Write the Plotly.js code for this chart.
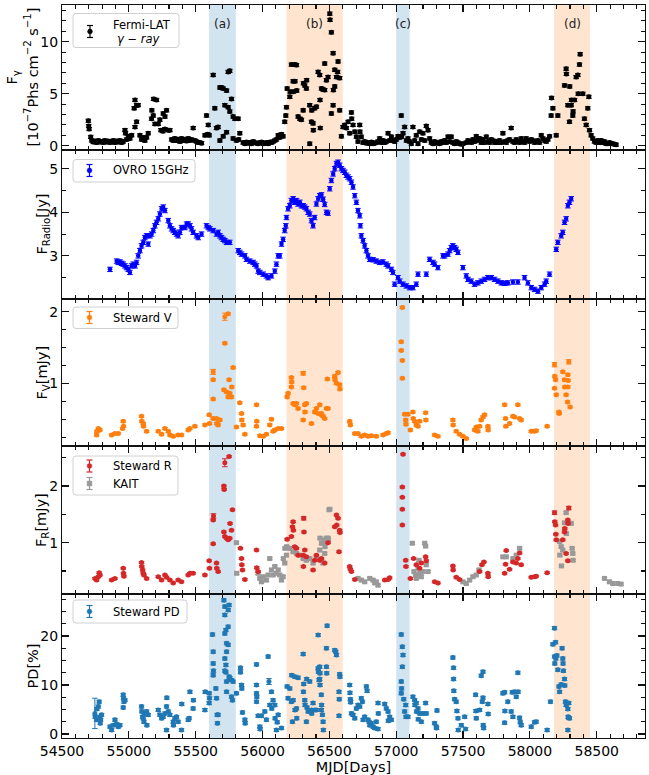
<!DOCTYPE html>
<html><head><meta charset="utf-8">
<script src="https://cdn.plot.ly/plotly-3.0.1.min.js"></script>
<style>html,body{margin:0;padding:0;background:#fff}</style>
</head><body><div id="chart" style="width:649px;height:775px"></div>
<script>
// ---------------- DATA (MJD, value) ----------------
const fermi = [
[54697,2.4],[54700,1.9],[54703,1.6],[54715,0.85],[54722,0.5],[54734,0.35],[54746,0.45],[54759,0.3],[54771,0.5],[54784,0.35],[54796,0.4],[54809,0.3],[54821,0.5],[54834,0.35],[54846,0.45],[54859,0.3],[54871,0.4],[54884,0.5],[54896,0.3],[54909,0.45],[54921,0.35],[54933,0.5],[54946,0.3],[54958,0.4],[54971,1.5],[54975,1.2],[54983,0.6],[54996,0.9],[55008,0.7],[55021,1.0],
[55040,3.6],[55046,4.4],[55058,3.9],[55070,3.9],[55058,2.3],[55046,1.8],[55083,1.0],[55095,0.6],[55108,0.8],[55120,0.5],[55133,0.8],[55145,1.2],[55170,2.6],[55183,2.9],[55172,3.4],[55185,4.5],[55207,4.4],[55195,2.1],[55220,2.1],[55232,2.5],[55257,3.1],[55270,2.8],[55282,3.4],[55240,1.5],[55255,1.4],[55270,1.6],[55295,1.5],[55307,1.5],
[55320,0.6],[55332,0.5],[55344,0.7],[55357,0.5],[55369,0.6],[55382,0.4],[55394,0.7],[55407,0.5],[55419,0.6],[55432,0.45],[55444,0.7],[55457,0.5],[55469,0.6],[55481,1.7],[55494,0.5],[55506,0.4],[55519,0.3],[55531,0.3],[55544,0.25],
[55569,1.0],[55581,2.9],[55594,2.0],[55590,1.1],[55601,1.0],[55631,6.8],[55643,3.6],[55656,1.7],[55668,1.8],[55681,0.5],[55681,5.6],[55693,5.6],[55706,5.5],[55731,5.3],[55718,3.9],[55743,3.7],[55743,7.1],[55755,7.2],[55768,4.5],[55755,3.3],[55780,2.8],[55793,2.6],[55706,0.9],[55731,1.3],[55780,0.7],[55818,2.6],[55830,1.2],[55805,0.5],[55822,0.6],
[55855,0.3],[55868,0.2],[55880,0.35],[55892,0.25],[55905,0.3],[55917,0.2],[55930,0.4],[55942,0.3],[55955,0.25],[55967,0.2],[55980,0.3],[55992,0.35],[56005,0.2],[56017,0.25],[56029,0.3],[56042,0.2],[56054,0.35],[56067,0.3],[56079,0.4],[56092,0.5],[56104,0.6],[56117,1.0],[56129,0.8],[56142,1.1],[56154,0.9],
[56166,2.3],[56174,2.9],[56179,3.7],[56184,5.5],[56204,4.7],[56216,7.8],[56241,7.8],[56254,7.75],[56206,5.2],[56229,6.2],[56243,6.2],[56256,5.3],[56231,5.2],[56266,2.8],[56279,2.6],[56291,2.5],[56304,3.4],[56306,6.0],[56316,5.8],[56328,5.5],[56330,6.3],[56353,3.9],[56366,2.3],[56378,2.15],[56353,0.2],[56380,1.5],[56368,3.4],[56390,3.6],[56403,3.75],[56416,7.1],[56428,6.8],[56441,5.5],[56430,4.4],[56465,5.35],[56478,6.3],[56490,6.6],[56465,7.9],[56453,5.4],
[56503,12.7],[56505,12.1],[56515,10.9],[56528,8.9],[56565,8.1],[56540,7.3],[56553,6.6],[56562,7.1],[56577,6.5],[56540,5.7],[56530,5.35],[56528,3.9],[56515,3.1],[56577,3.4],[56432,1.7],
[56590,0.9],[56602,1.8],[56615,2.0],[56627,1.7],[56640,2.3],[56665,3.2],[56667,2.6],[56652,1.2],[56677,2.0],[56690,1.35],[56702,0.87],[56727,2.0],[56729,1.35],[56739,0.87],[56714,0.4],[56752,0.3],[56764,0.4],[56777,0.25],[56789,0.3],[56802,0.2],[56814,0.35],[56827,0.2],[56839,0.25],[56851,0.3],[56864,0.4],[56876,0.7],[56889,0.3],[56901,0.5],[56914,0.3],[56926,0.4],[56939,1.2],[56951,0.5],[56964,0.87],[56976,0.5],[56988,0.4],
[57001,0.6],[57013,0.9],[57026,0.8],[57038,2.9],[57040,0.87],[57051,1.2],[57063,1.8],[57076,0.5],[57088,0.7],[57100,0.4],[57113,0.2],[57125,1.8],[57138,0.5],[57150,1.0],[57163,0.2],[57175,1.35],[57188,0.6],[57200,1.2],[57213,0.5],[57225,1.9],[57238,1.5],[57250,0.7],
[57262,0.3],[57275,0.2],[57287,0.4],[57300,0.25],[57312,0.3],[57325,0.2],[57337,0.4],[57350,0.3],[57362,0.5],[57375,0.3],[57387,0.87],[57400,0.4],[57412,0.87],[57424,0.3],[57437,0.2],[57449,0.4],[57462,0.3],[57474,0.2],[57487,0.15],[57499,0.2],
[57524,0.3],[57537,0.5],[57549,0.4],[57561,0.3],[57574,0.6],[57586,0.4],[57599,0.9],[57611,0.5],[57624,0.7],[57636,0.3],[57649,0.6],[57661,0.3],[57674,0.87],[57686,0.4],[57698,0.3],[57711,0.6],[57723,0.5],[57736,0.3],[57748,0.4],[57761,0.3],[57773,0.5],[57786,0.3],[57798,1.2],[57811,0.4],[57823,0.3],[57835,0.5],[57848,0.6],[57860,1.7],[57873,0.4],[57885,0.3],[57898,0.6],[57910,0.4],[57923,0.3],[57935,0.7],[57948,0.4],[57960,0.3],[57972,0.7],[57985,0.5],[57997,0.4],[58010,0.6],[58022,0.5],[58035,0.3],[58047,0.4],[58060,0.5],[58072,0.3],[58085,1.0],[58097,0.7],[58110,0.5],[58122,0.4],[58135,0.6],[58147,0.9],
[58159,2.9],[58162,4.6],[58172,3.6],[58197,1.0],[58209,2.9],[58259,5.8],[58271,7.4],[58273,6.9],[58284,3.9],[58296,2.3],[58298,5.7],[58309,3.9],[58311,4.4],[58321,2.9],[58334,4.4],[58323,3.3],[58346,6.6],[58359,6.8],[58371,7.8],[58376,8.8],[58361,5.0],[58396,5.0],[58408,2.6],[58421,2.0],[58433,3.6],[58441,4.7],[58446,1.5],
[58458,1.0],[58470,0.7],[58483,0.4],[58496,0.3],[58508,0.5],[58520,0.3],[58533,0.5],[58545,0.3],[58558,0.4],[58570,0.2],[58583,0.2],[58595,0.3],[58608,0.2],[58620,0.2],[58633,0.15],[58645,0.1]
];

const ovro = [
[54859,2.69],[54909,2.88],[54921,2.85],[54933,2.86],[54946,2.83],[54958,2.81],[54971,2.77],[54983,2.73],[54996,2.69],[55008,2.62],[55021,2.77],[55033,2.81],[55046,2.77],[55058,2.85],[55070,3.0],[55083,3.12],[55095,3.23],[55108,3.31],[55120,3.42],[55133,3.46],[55145,3.27],[55158,3.46],[55170,3.5],[55183,3.58],[55195,3.69],[55207,3.77],[55220,3.85],[55232,3.96],[55245,4.08],[55257,4.12],[55270,4.04],
[55295,3.81],[55307,3.69],[55320,3.62],[55332,3.58],[55344,3.54],[55357,3.5],[55369,3.46],[55382,3.54],[55394,3.65],[55419,3.65],[55432,3.73],[55444,3.73],[55457,3.69],[55469,3.62],[55481,3.54],[55506,3.46],[55519,3.42],[55544,3.5],[55581,3.69],[55594,3.65],[55606,3.62],[55631,3.58],[55656,3.5],[55668,3.54],[55681,3.46],[55693,3.42],[55706,3.38],[55718,3.35],[55731,3.31],[55755,3.31],
[55818,3.12],[55830,3.08],[55843,3.04],[55868,3.0],[55880,2.92],[55905,2.88],[55930,2.85],[55942,2.81],[55955,2.77],[55967,2.65],[55980,2.62],[56005,2.58],[56029,2.54],[56042,2.5],[56067,2.54],[56092,2.65],[56104,2.81],[56117,3.0],[56129,3.0],[56142,3.27],[56154,3.38],[56166,3.58],[56174,3.69],[56179,3.88],[56191,4.08],[56204,4.15],[56216,4.27],[56229,4.31],[56241,4.23],[56254,4.27],[56266,4.19],[56279,4.23],[56291,4.15],[56304,4.15],[56316,4.12],[56328,4.08],[56341,4.0],[56353,3.96],[56366,3.81],[56378,3.69],[56390,3.88],[56403,4.19],[56416,4.31],[56428,4.38],[56441,4.4],[56453,4.3],[56465,4.18],[56478,4.0],[56490,3.98],
[56503,4.54],[56515,4.73],[56528,4.88],[56540,5.0],[56553,5.12],[56565,5.15],[56577,5.08],[56590,5.0],[56602,4.96],[56615,4.92],[56627,4.85],[56640,4.81],[56652,4.77],[56665,4.69],[56677,4.58],[56690,4.38],[56702,4.23],[56714,4.04],[56727,3.92],[56732,3.69],[56739,3.46],[56752,3.35],[56764,3.23],[56777,3.12],[56789,3.0],[56802,2.92],[56827,2.91],[56851,2.88],[56876,2.85],[56901,2.86],[56926,2.81],[56939,2.77],[56964,2.69],[56976,2.62],[56988,2.35],[57013,2.5],[57026,2.42],[57051,2.35],[57076,2.31],[57101,2.27],[57125,2.27],[57150,2.35],[57163,2.58],[57225,2.58],[57250,2.92],[57275,2.85],[57287,2.81],[57312,2.73],
[57350,3.0],[57362,3.0],[57387,3.04],[57400,3.12],[57412,3.19],[57424,3.23],[57437,3.19],[57449,3.15],[57462,3.08],[57499,2.73],[57524,2.54],[57537,2.46],[57561,2.42],[57586,2.35],[57611,2.38],[57636,2.42],[57661,2.46],[57686,2.5],[57711,2.5],[57736,2.46],[57761,2.42],[57786,2.38],[57811,2.37],[57835,2.38],[57873,2.4],[57910,2.4],[57960,2.5],[57985,2.38],[58010,2.27],[58035,2.23],[58060,2.19],[58085,2.27],[58110,2.35],[58122,2.42],[58147,2.58],
[58197,3.15],[58209,3.31],[58234,3.46],[58246,3.54],[58259,3.77],[58271,3.85],[58284,4.15],[58296,4.23],[58309,4.31]
];

const stewardV = [
[54759,0.28],[54761,0.33],[54772,0.37],[54784,0.35],[54871,0.28],[54896,0.30],[54921,0.30],[54958,0.47],[54960,0.40],[54953,0.37],
[55095,0.54],[55097,0.47],[55108,0.44],[55110,0.40],[55133,0.33],[55220,0.33],[55245,0.29],[55270,0.37],[55295,0.33],[55307,0.28],[55332,0.26],[55369,0.28],[55394,0.28],[55444,0.35],[55457,0.37],[55494,0.40],
[55569,0.42],[55601,0.56],[55603,0.44],[55631,0.51],[55631,0.78],[55631,1.05],[55631,1.16],[55656,0.51],[55658,0.44],[55668,0.42],[55681,0.49],
[55718,1.56],[55718,1.93],[55743,1.97],[55750,1.05],[55711,0.91],[55731,0.88],[55755,0.86],[55768,0.81],[55770,0.95],[55780,1.22],[55743,0.81],
[55805,0.39],[55830,0.73],[55843,0.58],[55845,0.49],[55855,0.42],[55868,0.29],[55955,0.70],[55957,0.47],[55955,0.40],[55980,0.27],[56005,0.26],[56029,0.29],[56054,0.42],[56067,0.50],[56079,0.33],[56092,0.35],[56117,0.37],[56142,0.37],
[56184,0.81],[56191,0.86],[56216,0.95],[56218,1.02],[56216,1.08],[56229,0.72],[56241,0.70],[56254,0.72],[56266,0.65],[56304,1.14],[56308,0.94],[56316,0.70],[56318,0.60],[56328,0.72],[56304,0.49],[56366,0.44],[56390,0.60],[56403,0.65],[56416,0.58],[56428,0.70],[56441,0.56],[56453,0.54],[56465,0.51],[56485,1.06],[56490,0.65],
[56440,0.58],[56478,0.65],[56540,1.10],[56542,1.05],[56553,1.0],[56565,1.15],[56577,0.98],[56579,0.92],
[56652,0.47],[56657,0.42],[56690,0.30],[56714,0.30],[56739,0.26],[56764,0.28],[56789,0.26],[56814,0.27],[56851,0.26],[56901,0.28],[56926,0.30],[56939,0.31],
[57046,2.06],[57038,1.58],[57038,1.46],[57046,1.32],[57046,1.07],[57063,0.57],[57071,0.49],[57073,0.43],[57088,0.57],[57106,0.35],[57125,0.60],[57127,0.51],[57138,0.47],[57150,0.42],[57163,0.40],[57175,0.47],[57220,0.59],[57222,0.49],
[57287,0.28],[57312,0.26],[57424,0.49],[57426,0.42],[57449,0.33],[57474,0.29],[57499,0.26],[57524,0.23],
[57586,0.35],[57599,0.39],[57611,0.33],[57624,0.40],[57636,0.49],[57649,0.53],[57661,0.56],[57686,0.40],[57688,0.35],
[57811,0.70],[57818,0.51],[57820,0.40],[57848,0.44],[57873,0.54],[57885,0.53],[57910,0.70],[57923,0.51],[57935,0.49],[58010,0.33],[58035,0.33],[58047,0.34],[58129,0.40],
[58184,1.26],[58186,1.10],[58192,1.05],[58184,0.93],[58197,0.84],[58217,0.60],[58219,0.58],[58246,1.16],[58259,1.05],[58261,0.95],[58271,0.84],[58284,0.95],[58286,1.04],[58284,1.12],[58282,0.74],[58291,1.30],[58301,0.67]
];

const stewardR = [
[54747,0.37],[54759,0.34],[54772,0.40],[54778,0.47],[54784,0.43],[54871,0.34],[54896,0.37],[54958,0.55],[54960,0.46],[54963,0.41],
[55095,0.65],[55097,0.58],[55103,0.52],[55108,0.46],[55113,0.43],[55133,0.37],[55220,0.40],[55245,0.34],[55270,0.43],[55282,0.39],[55307,0.34],[55332,0.29],[55369,0.34],[55394,0.31],[55444,0.43],[55457,0.46],[55481,0.46],
[55569,0.43],[55601,0.68],[55603,0.55],[55631,0.98],[55631,1.40],[55633,1.47],[55656,0.64],[55658,0.55],[55668,0.49],
[55711,2.0],[55713,1.94],[55718,2.41],[55750,2.52],[55711,1.19],[55718,1.11],[55731,1.08],[55743,1.05],[55755,1.08],[55768,1.22],[55775,1.58],[55757,1.34],
[55835,0.90],[55843,0.72],[55845,0.61],[55850,0.52],[55868,0.35],[55955,0.87],[55957,0.56],[55967,0.49],
[56184,1.06],[56216,1.11],[56229,1.37],[56224,1.28],[56231,1.22],[56241,0.93],[56254,0.90],[56266,0.78],[56304,0.78],[56308,1.43],[56310,1.19],[56316,0.87],[56328,0.75],[56306,0.58],[56378,0.52],[56390,0.69],[56403,0.78],[56428,0.69],[56441,0.72],[56465,0.64],[56490,1.0],
[56553,1.49],[56565,1.43],[56555,1.31],[56540,1.28],[56577,1.22],[56579,1.18],[56572,0.84],
[56652,0.58],[56657,0.53],[56665,0.49],[56690,0.35],[56914,0.34],[56939,0.35],[56951,0.38],
[57051,2.56],[57046,1.98],[57046,1.80],[57046,1.59],[57046,1.31],[57071,0.69],[57073,0.58],[57106,0.37],[57130,0.72],[57150,0.61],[57175,0.55],[57188,0.64],[57220,0.75],[57225,0.68],
[57287,0.31],[57312,0.29],[57424,0.59],[57426,0.52],[57449,0.39],[57474,0.35],[57624,0.49],[57641,0.61],[57656,0.66],[57686,0.46],[57688,0.40],
[57811,0.46],[57818,0.62],[57823,0.86],[57848,0.53],[57873,0.66],[57898,0.64],[57910,0.72],[57923,0.82],[57935,0.61],[58010,0.39],[58035,0.40],[58047,0.41],[58129,0.47],
[58184,1.53],[58186,1.37],[58192,1.31],[58194,1.15],[58197,1.05],[58246,1.05],[58259,1.19],[58261,1.25],[58284,1.40],[58286,1.34],[58291,1.61],[58271,0.81],[58284,0.68]
];

const kait = [
[55805,1.0],[55807,0.46],
[55967,0.46],[55980,0.37],[55992,0.31],[56005,0.40],[56029,0.34],[56042,0.43],[56054,0.72],[56067,0.52],[56079,0.43],[56092,0.58],[56104,0.46],[56117,0.52],[56129,0.43],[56142,0.34],[56154,0.40],[56166,0.64],[56156,0.72],[56168,0.90],[56179,0.78],
[56181,0.93],[56204,0.90],[56229,0.84],[56254,0.81],[56279,0.78],[56304,0.72],[56328,0.69],[56353,0.72],[56378,0.64],[56403,0.75],[56428,0.87],[56441,0.99],[56465,1.05],[56490,1.08],[56498,1.58],
[56503,1.59],[56430,1.08],[56453,0.99],[56467,0.93],[56478,1.08],[56492,1.05],[56465,0.81],[56440,0.69],[56453,0.64],
[56714,0.37],[56739,0.34],[56764,0.31],[56802,0.37],[56827,0.34],[56839,0.29],[56864,0.25],[56851,0.31],
[57121,0.99],[57133,0.49],[57145,0.43],[57163,0.55],[57170,0.69],[57175,0.46],[57188,0.40],[57200,0.49],[57213,0.99],[57220,0.94],[57225,0.61],[57238,0.49],[57150,0.37],
[57499,0.31],[57524,0.28],[57549,0.34],[57574,0.40],[57599,0.43],[57619,0.52],
[57798,0.75],[57823,0.75],[57873,0.72],[57898,0.78],[57923,0.90],
[58271,1.53],[58259,1.35],[58273,1.16],[58222,1.02],[58234,0.93],[58246,0.87],[58224,0.78],[58236,0.59],[58316,0.90],[58321,0.81],[58323,0.69],[58309,1.34],
[58558,0.37],[58595,0.31],[58620,0.28],[58657,0.28],[58682,0.27]
];

const stewardPD = [
[54746,4.2],[54748,3.5],[54759,2.9],[54761,5.1],[54772,5.6],[54778,6.6],[54784,3.5],[54789,2.9],[54796,3.9],[54786,2.2],
[54859,1.5],[54871,0.8],[54884,1.8],[54896,2.9],[54909,2.0],[54921,1.5],[54933,1.8],[54958,8.0],[54960,7.3],[54963,6.6],[54971,6.9],[54958,5.4],
[55095,5.6],[55097,4.6],[55103,3.5],[55108,3.2],[55113,2.5],[55120,4.2],[55133,4.6],[55135,1.8],[55145,3.9],
[55220,4.9],[55232,3.9],[55245,3.2],[55257,3.5],[55270,4.2],[55282,5.6],[55284,7.4],[55282,0.8],[55295,4.6],[55307,3.9],[55332,2.5],[55334,1.8],[55344,3.2],[55357,3.5],[55369,2.5],[55394,0.8],[55396,6.1],
[55444,2.9],[55451,3.2],[55457,8.6],[55481,5.2],[55483,6.9],
[55569,4.9],[55571,8.6],[55601,8.3],[55603,7.3],[55601,6.3],[55626,20.3],[55631,16.8],[55631,14.4],[55633,12.9],[55631,12.0],[55651,9.3],[55656,7.3],[55661,3.9],[55663,2.2],[55668,3.9],
[55711,27.3],[55718,26.0],[55718,24.3],[55726,21.2],[55718,20.5],[55731,18.5],[55731,16.8],[55718,15.4],[55726,14.1],[55718,12.9],[55726,12.6],[55731,10.7],[55731,8.6],[55743,25.3],[55750,26.3],[55743,21.9],[55743,18.2],[55750,11.7],[55755,11.4],[55768,11.0],[55768,7.6],[55775,6.9],[55780,10.7],[55805,8.3],
[55835,13.5],[55835,12.6],[55843,10.0],[55845,9.3],[55850,4.4],[55868,2.9],[55870,2.2],
[55955,14.2],[55955,10.0],[55955,8.3],[55957,7.6],[55955,6.6],[55967,3.7],[55980,1.5],[55982,1.0],[55992,3.7],[56017,4.6],[56029,2.9],[56042,15.8],[56048,10.7],[56054,5.9],[56067,8.6],[56069,5.2],[56079,6.9],[56092,5.9],[56094,3.2],[56104,0.8],[56110,2.4],[56117,3.9],[56142,1.2],
[56184,9.7],[56191,7.3],[56204,9.3],[56216,6.6],[56218,12.0],[56224,2.5],[56229,6.9],[56241,11.7],[56243,4.9],[56254,5.2],[56256,3.2],[56266,11.5],
[56304,16.3],[56306,8.6],[56308,10.2],[56316,6.9],[56318,5.9],[56328,2.5],[56330,11.2],[56333,5.4],[56341,4.6],[56353,10.7],[56366,4.9],[56368,4.2],[56378,6.3],[56390,4.9],[56403,4.9],[56416,20.2],[56416,13.4],[56418,12.7],[56423,11.0],
[56428,13.7],[56430,12.4],[56428,11.2],[56430,10.0],[56440,8.0],[56442,5.9],[56440,4.9],[56448,3.9],[56453,2.5],[56455,0.8],[56478,13.7],[56480,12.4],[56478,17.5],[56483,22.1],
[56540,17.1],[56548,16.8],[56553,16.1],[56577,12.2],[56579,11.7],[56572,8.6],[56574,7.1],[56572,3.7],
[56652,10.0],[56654,8.4],[56657,7.1],[56659,6.5],[56665,4.2],[56677,3.9],[56690,3.2],[56702,5.2],[56714,5.9],[56727,5.6],[56739,7.3],[56747,6.6],[56752,2.9],[56764,3.5],[56777,9.7],[56782,8.8],[56789,2.9],[56797,2.5],[56802,1.8],[56814,2.2],[56827,1.5],[56839,1.2],[56851,2.5],[56864,6.3],[56866,4.2],[56864,1.0],
[56914,6.1],[56926,5.2],[56939,4.6],[56941,2.7],[56951,3.5],[56964,2.9],
[57038,20.3],[57046,17.8],[57051,16.1],[57046,13.7],[57038,10.7],[57040,9.3],[57038,8.3],[57056,7.1],[57071,5.9],[57063,4.6],[57073,3.5],[57088,3.5],
[57125,7.6],[57138,6.9],[57140,5.9],[57150,6.3],[57163,5.2],[57152,4.6],[57165,3.0],[57175,4.2],[57188,2.5],[57200,4.2],[57220,6.3],[57225,4.2],
[57287,2.2],[57300,1.5],[57302,1.2],[57305,4.8],
[57424,15.6],[57429,13.5],[57429,11.2],[57431,8.8],[57437,7.1],[57449,6.6],[57454,4.7],[57462,3.2],[57464,0.8],[57487,1.8],[57512,3.5],[57519,1.0],
[57594,8.0],[57596,4.7],[57599,3.2],[57624,4.9],[57636,11.9],[57644,6.6],[57649,12.7],[57651,1.8],[57654,1.2],[57649,7.4],[57686,6.1],[57688,4.1],
[57798,8.3],[57811,8.5],[57813,4.7],[57811,2.3],[57835,6.6],[57860,4.6],[57868,8.5],[57873,3.5],[57885,8.6],[57898,7.6],[57910,12.5],[57912,8.6],[57923,3.3],[57928,2.4],[57935,1.8],
[58010,1.5],[58035,2.4],[58047,2.5],[58129,0.8],
[58154,6.6],[58184,21.6],[58172,18.3],[58192,18.7],[58184,15.8],[58186,14.4],[58194,15.4],[58202,16.0],[58209,13.1],[58217,9.7],[58222,8.6],[58234,10.1],[58241,17.5],[58246,15.4],[58248,14.4],[58251,12.9],[58259,11.2],[58261,9.9],[58266,6.6],[58276,6.3],[58284,5.1],[58286,3.5],[58291,3.3],[58296,3.2],[58284,0.8],[58271,5.9],[58291,6.3]
];

// typical 1-sigma uncertainties (plus the few visibly larger ones)
const ERR = {fermi:0.15, ovro:0.05, V:0.015, R:0.015, kait:0.02, PD:0.3};
const bigErrV  = {"55718,1.93":0.05, "55631,1.16":0.035, "56304,1.14":0.025, "58184,1.26":0.03, "58291,1.3":0.03};
const bigErrR  = {"55718,2.41":0.07, "55633,1.47":0.04, "56308,1.43":0.03, "58184,1.53":0.03, "58291,1.61":0.03};
const bigErrPD = {"54746,4.2":3.1, "56048,10.7":0.6};

const flares = [ // [start, end, colour, label]
  [55600, 55800, 'blue', '(a)'],
  [56180, 56600, 'orange', '(b)'],
  [57000, 57100, 'blue', '(c)'],
  [58180, 58450, 'orange', '(d)']
];

// ---------------- GEOMETRY ----------------
const L = 62, R = 645, T = 5, B = 738;
const X = p => (p - L) / (R - L);
const Y = p => (B - p) / (B - T);
const edges = [5, 150, 299, 446, 594, 738];
const dom = i => [Y(edges[i + 1]), Y(edges[i])];
const FONT = 'DejaVu Sans, Verdana, sans-serif';
const TICKC = '#111';

function err(pairs, base, big) {
  return pairs.map(p => (big && big[p[0] + ',' + p[1]] !== undefined) ? big[p[0] + ',' + p[1]] : base);
}
function trace(pairs, i, color, size, base, big, symbol) {
  return {
    type: 'scatter', mode: 'markers',
    x: pairs.map(p => p[0]), y: pairs.map(p => p[1]),
    xaxis: 'x' + (i + 1), yaxis: 'y' + (i + 1),
    marker: {color: color, size: size, symbol: symbol || 'circle', line: {width: 0}},
    error_y: {type: 'data', array: err(pairs, base, big), color: color, thickness: 1, width: 2.8},
    hoverinfo: 'skip', showlegend: false
  };
}
const cBlue = '#1f77b4', cOrange = '#ff7f0e', cRed = '#d62728', cGrey = '#999999';
const data = [
  trace(fermi, 0, '#000000', 5, ERR.fermi),
  trace(ovro, 1, '#0000ff', 4.5, ERR.ovro),
  trace(stewardV, 2, cOrange, 5, ERR.V, bigErrV),
  trace(kait, 3, cGrey, 5, ERR.kait, null, 'square'),
  trace(stewardR, 3, cRed, 5, ERR.R, bigErrR),
  trace(stewardPD, 4, cBlue, 5, ERR.PD, bigErrPD)
];

const yRanges = [[-0.41, 13.53], [2.01, 5.43], [0.1255, 2.177], [0.095, 2.705], [-0.82, 28.57]];
const yDticks = [5, 1, 1, 1, 10];
const yMinor = [1, 0.5, 0.25, 0.5, 2.5];

const layout = {
  width: 649, height: 775,
  margin: {l: L, r: 649 - R, t: T, b: 775 - B, pad: 0},
  paper_bgcolor: '#ffffff', plot_bgcolor: 'rgba(0,0,0,0)',
  font: {family: FONT, size: 14, color: '#000'},
  showlegend: false,
  shapes: [], annotations: []
};
for (let i = 0; i < 5; i++) {
  const last = i === 4;
  layout['xaxis' + (i + 1)] = {
    anchor: 'y' + (i + 1), domain: [0, 1], range: [54500, 58861],
    matches: last ? undefined : 'x5',
    tick0: 54500, dtick: 500, tickformat: 'd',
    ticks: 'inside', ticklen: 7, tickwidth: 1.1, tickcolor: TICKC,
    minor: {tick0: 54500, dtick: 100, ticks: 'inside', ticklen: 4, tickwidth: 1.1, tickcolor: TICKC},
    showline: true, linecolor: TICKC, linewidth: 1.1, mirror: 'ticks',
    showgrid: false, zeroline: false, showticklabels: last,
    tickfont: {family: FONT, size: 14, color: '#000'}, fixedrange: true
  };
  layout['yaxis' + (i + 1)] = {
    anchor: 'x' + (i + 1), domain: dom(i), range: yRanges[i],
    tick0: 0, dtick: yDticks[i],
    ticks: 'inside', ticklen: 7, tickwidth: 1.1, tickcolor: TICKC,
    minor: {tick0: 0, dtick: yMinor[i], ticks: 'inside', ticklen: 4, tickwidth: 1.1, tickcolor: TICKC},
    showline: true, linecolor: TICKC, linewidth: 1.1, mirror: 'ticks',
    showgrid: false, zeroline: false,
    tickfont: {family: FONT, size: 14, color: '#000'}, fixedrange: true
  };
}
layout.xaxis5.title = {text: 'MJD[Days]', font: {family: FONT, size: 14.5}, standoff: 4};

// flare bands
const bandCol = {blue: 'rgba(31,119,180,0.2)', orange: 'rgba(255,127,14,0.2)'};
flares.forEach(f => {
  layout.shapes.push({type: 'rect', xref: 'x5', yref: 'paper', x0: f[0], x1: f[1], y0: 0, y1: 1,
    fillcolor: bandCol[f[2]], line: {width: 0}, layer: 'below'});
  layout.annotations.push({xref: 'x5', yref: 'paper', x: (f[0] + f[1]) / 2, y: Y(24), text: f[3],
    showarrow: false, xanchor: 'center', yanchor: 'middle', font: {family: FONT, size: 12, color: '#222'}});
});

// y-axis titles
const yTitles = [
  [12, 77.5, 'F<sub>γ</sub>'],
  [31, 77.5, '[10<sup>−7</sup>Phs cm<sup>−2</sup> s<sup>−1</sup>]'],
  [42, 224.5, 'F<sub>Radio</sub>[Jy]'],
  [42, 372.5, 'F<sub>V</sub>[mJy]'],
  [42, 520, 'F<sub>R</sub>[mJy]'],
  [32.5, 666, 'PD[%]']
];
yTitles.forEach(t => layout.annotations.push({xref: 'paper', yref: 'paper', x: X(t[0]), y: Y(t[1]), text: t[2],
  textangle: -90, showarrow: false, xanchor: 'center', yanchor: 'middle', font: {family: FONT, size: 14.5, color: '#000'}}));

// custom legends (box, errorbar glyph, label)
function box(x0, y0, x1, y1) {
  const r = 3, rx = r / (R - L), ry = r / (B - T);
  const a = X(x0), b = X(x1), c = Y(y0), d = Y(y1);
  const path = `M${a + rx},${c} L${b - rx},${c} Q${b},${c} ${b},${c - ry} L${b},${d + ry} Q${b},${d} ${b - rx},${d} L${a + rx},${d} Q${a},${d} ${a},${d + ry} L${a},${c - ry} Q${a},${c} ${a + rx},${c} Z`;
  layout.shapes.push({type: 'path', xref: 'paper', yref: 'paper', path: path,
    fillcolor: 'rgba(255,255,255,0.85)', line: {color: '#d0d0d0', width: 1}, layer: 'above'});
}
function glyph(cx, cy, color, square) {
  const h = 6, w = 3, m = 2.4;
  const ln = (x0, y0, x1, y1) => layout.shapes.push({type: 'line', xref: 'paper', yref: 'paper',
    x0: X(x0), x1: X(x1), y0: Y(y0), y1: Y(y1), line: {color: color, width: 1.2}, layer: 'above'});
  ln(cx, cy - h, cx, cy + h); ln(cx - w, cy - h, cx + w, cy - h); ln(cx - w, cy + h, cx + w, cy + h);
  layout.shapes.push({type: square ? 'rect' : 'circle', xref: 'paper', yref: 'paper',
    x0: X(cx - m), x1: X(cx + m), y0: Y(cy + m), y1: Y(cy - m), fillcolor: color, line: {color: color, width: 0.5}, layer: 'above'});
}
function label(x, y, text) {
  layout.annotations.push({xref: 'paper', yref: 'paper', x: X(x), y: Y(y), text: text, showarrow: false,
    xanchor: 'left', yanchor: 'middle', font: {family: FONT, size: 11.5, color: '#000'}});
}
box(73, 13.5, 179, 47.5); glyph(90, 31.5, '#000000'); label(110.5, 25, 'Fermi-LAT'); label(114.5, 38.5, '<i>γ − ray</i>');
box(73, 159.5, 195, 182); glyph(89.5, 170.5, '#0000ff'); label(110.5, 170.5, 'OVRO 15GHz');
box(73, 307, 178, 328.5); glyph(89.5, 317.5, cOrange); label(110.5, 317.5, 'Steward V');
box(73, 456, 178, 495); glyph(89.5, 466, cRed); label(110.5, 466, 'Steward R');
glyph(89.5, 483.5, cGrey, true); label(110.5, 483.5, 'KAIT');
box(73, 600, 187, 623); glyph(89.5, 611.5, cBlue); label(110.5, 611.5, 'Steward PD');

Plotly.newPlot('chart', data, layout, {displayModeBar: false, staticPlot: true});
</script></body></html>
